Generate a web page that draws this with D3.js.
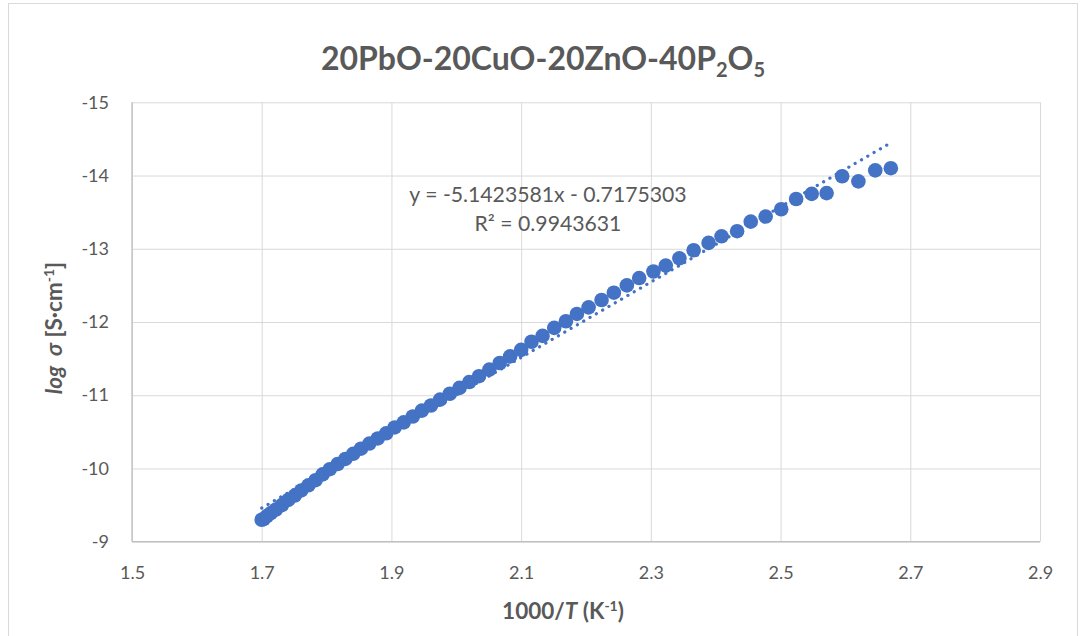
<!DOCTYPE html>
<html>
<head>
<meta charset="utf-8">
<script src="https://cdn.jsdelivr.net/npm/d3@7"></script>
<style>
  html, body { margin: 0; padding: 0; background: #fff; }
  svg { display: block; font-family: Lato, "Open Sans", sans-serif; }
  .grid line { stroke: #d9d9d9; stroke-width: 1; }
  .tick text { fill: #595959; font-size: 18px; }
</style>
</head>
<body>
<div id="chart"></div>
<script>
// 1000/T values (K^-1)
var invT = [
    1.700, 1.703, 1.708, 1.714, 1.722, 1.731, 1.741, 1.751, 1.761, 1.772,
    1.783, 1.794, 1.805, 1.817, 1.829, 1.841, 1.853, 1.866, 1.879, 1.892,
    1.905, 1.919, 1.933, 1.947, 1.961, 1.975, 1.990, 2.005, 2.020, 2.035,
    2.051, 2.067, 2.083, 2.100, 2.116, 2.133, 2.151, 2.169, 2.186, 2.204,
    2.224, 2.243, 2.263, 2.282, 2.304, 2.323, 2.344, 2.366, 2.389, 2.409,
    2.433, 2.454, 2.477, 2.501, 2.524, 2.548, 2.571, 2.595, 2.620, 2.646,
    2.670
];
// log sigma values (S/cm)
var logSigma = [
    -9.30, -9.31, -9.35, -9.39, -9.44, -9.50, -9.57, -9.63, -9.70, -9.77,
    -9.84, -9.92, -9.99, -10.06, -10.13, -10.20, -10.27, -10.34, -10.41, -10.48,
    -10.56, -10.63, -10.71, -10.79, -10.86, -10.94, -11.02, -11.10, -11.18, -11.26,
    -11.35, -11.44, -11.53, -11.62, -11.73, -11.81, -11.92, -12.01, -12.11, -12.20,
    -12.30, -12.40, -12.50, -12.60, -12.69, -12.77, -12.87, -12.98, -13.08, -13.17,
    -13.24, -13.37, -13.44, -13.54, -13.68, -13.75, -13.76, -13.99, -13.92, -14.07,
    -14.10
];

var xTicks = [1.5, 1.7, 1.9, 2.1, 2.3, 2.5, 2.7, 2.9];
var yTicks = [-15, -14, -13, -12, -11, -10, -9];

// linear trendline shown on the chart
var fitSlope = -5.1423581,
    fitIntercept = -0.7175303,
    fitR2 = 0.9943631;

var width = 1080,
    height = 636;

var margin = { top: 102.3, left: 132, right: 40, bottom: 94.3 },
    plotW = width - margin.left - margin.right,
    plotH = height - margin.top - margin.bottom;

var svg = d3.select("#chart")
    .append("svg")
    .attr("width", width)
    .attr("height", height);

// chart frame
svg.append("rect")
    .attr("x", 8.5).attr("y", 3.5)
    .attr("width", 1069).attr("height", 640)
    .attr("fill", "#fff")
    .attr("stroke", "#d9d9d9");

var g = svg.append("g")
    .attr("transform", "translate(" + margin.left + "," + margin.top + ")");

var x = d3.scaleLinear().domain([1.5, 2.9]).range([0, plotW]);
var y = d3.scaleLinear().domain([-15, -9]).range([0, plotH]);

// gridlines + tick labels
g.append("g")
    .attr("class", "grid")
    .call(d3.axisLeft(y).tickValues(yTicks).tickSize(-plotW).tickPadding(23)
        .tickFormat(function (d) { return String(d); }))
    .call(function (a) { a.select(".domain").remove(); });

g.append("g")
    .attr("class", "grid")
    .attr("transform", "translate(0," + plotH + ")")
    .call(d3.axisBottom(x).tickValues(xTicks).tickSize(-plotH).tickPadding(25)
        .tickFormat(d3.format(".1f")))
    .call(function (a) { a.select(".domain").remove(); });

g.selectAll(".tick text").attr("font-family", "Lato, sans-serif");

// axis lines
g.append("line")
    .attr("x1", 0).attr("x2", plotW)
    .attr("y1", plotH).attr("y2", plotH)
    .attr("stroke", "#bfbfbf").attr("stroke-width", 1.3);
g.append("line")
    .attr("x1", 0).attr("x2", 0)
    .attr("y1", 0).attr("y2", plotH)
    .attr("stroke", "#bfbfbf").attr("stroke-width", 1.3);

// data points
var points = invT.map(function (d, i) { return [d, logSigma[i]]; });

g.selectAll("circle.pt")
    .data(points)
    .join("circle")
    .attr("class", "pt")
    .attr("cx", function (d) { return x(d[0]); })
    .attr("cy", function (d) { return y(d[1]); })
    .attr("r", 7.3)
    .attr("fill", "#4472c4");

// dotted trendline over the data range
var xExt = d3.extent(invT);
g.append("line")
    .attr("x1", x(xExt[0])).attr("y1", y(fitSlope * xExt[0] + fitIntercept))
    .attr("x2", x(xExt[1])).attr("y2", y(fitSlope * xExt[1] + fitIntercept))
    .attr("stroke", "#4472c4")
    .attr("stroke-width", 3.2)
    .attr("stroke-linecap", "round")
    .attr("stroke-dasharray", "0.1 7.2");

// equation label
svg.append("text")
    .attr("x", 548).attr("y", 202)
    .attr("text-anchor", "middle")
    .attr("font-size", 21.2)
    .attr("fill", "#595959")
    .text("y = " + fitSlope.toFixed(7) + "x - " + Math.abs(fitIntercept).toFixed(7));

svg.append("text")
    .attr("x", 548).attr("y", 231)
    .attr("text-anchor", "middle")
    .attr("font-size", 21.2)
    .attr("fill", "#595959")
    .text("R\u00b2 = " + fitR2.toFixed(7));

// title
var title = svg.append("text")
    .attr("x", 543).attr("y", 70)
    .attr("text-anchor", "middle")
    .attr("font-size", 32)
    .attr("font-weight", "bold")
    .attr("fill", "#595959");
title.append("tspan").text("20PbO-20CuO-20ZnO-40P");
title.append("tspan").attr("font-size", 20).attr("dy", 7).text("2");
title.append("tspan").attr("dy", -7).text("O");
title.append("tspan").attr("font-size", 20).attr("dy", 7).text("5");

// x axis title
var xt = svg.append("text")
    .attr("x", 563).attr("y", 619)
    .attr("text-anchor", "middle")
    .attr("font-size", 22.5)
    .attr("font-weight", "bold")
    .attr("fill", "#595959");
xt.append("tspan").text("1000/");
xt.append("tspan").attr("font-style", "italic").text("T");
xt.append("tspan").text(" (K");
xt.append("tspan").attr("font-size", 14).attr("dy", -8).text("-1");
xt.append("tspan").attr("dy", 8).text(")");

// y axis title
var yt = svg.append("text")
    .attr("transform", "translate(62,328) rotate(-90)")
    .attr("text-anchor", "middle")
    .attr("font-size", 22.5)
    .attr("font-weight", "bold")
    .attr("fill", "#595959");
yt.append("tspan").attr("font-style", "italic").text("log");
yt.append("tspan").attr("font-style", "italic").text("\u00a0 \u03c3");
yt.append("tspan").text(" [S\u00b7cm");
yt.append("tspan").attr("font-size", 14).attr("dy", -8).text("-1");
yt.append("tspan").attr("dy", 8).text("]");
</script>
</body>
</html>
